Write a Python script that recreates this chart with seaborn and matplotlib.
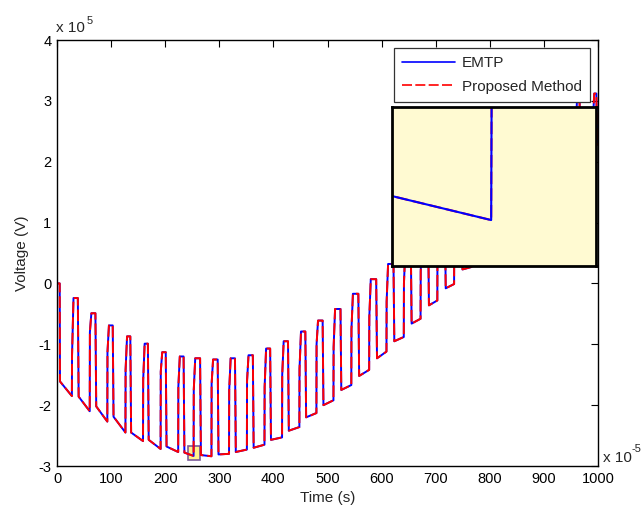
import matplotlib
matplotlib.use("Agg")
import numpy as np
import pandas as pd
import matplotlib.pyplot as plt
import seaborn as sns
from matplotlib.lines import Line2D
from matplotlib.patches import Rectangle

# Values (time in 1e-5 s, voltage in 1e5 V)
start_x = [0, 5, 5.5]
start_y = [0, 0, -1.61]
rise_x = [27.5, 60.5, 93, 126.5, 159, 191.5, 224, 252.5, 285.5, 318, 351, 383.5, 416, 448,
          479.5, 511, 544, 577, 609, 641, 672, 703, 734, 766, 798, 830, 862, 894, 926, 958, 990]
fall_x = [38.5, 71, 103, 135.5, 168, 201, 234, 264.5, 297, 329, 362, 394, 427, 459,
          491, 524, 557, 590, 622, 654, 686, 717, 748, 780, 812, 844, 876, 908, 940, 966, 997]
mid_y = [-1.18, -0.80, -1.13, -1.42, -1.59, -1.45, -1.70, -1.75, -1.65, -1.75, -1.60, -1.70, -1.50, -1.40,
         -1.00, -1.05, -0.75, -0.55, -0.30, 0.00, 0.20, 0.50, 0.75, 1.00, 1.25, 1.50, 1.75, 2.00, 2.20, 2.40, 2.60]
top_y = [-0.24, -0.49, -0.69, -0.87, -0.99, -1.13, -1.20, -1.23, -1.25, -1.23, -1.18, -1.07, -0.95, -0.79,
         -0.61, -0.42, -0.17, 0.07, 0.32, 0.60, 0.88, 1.15, 1.42, 1.70, 1.95, 2.20, 2.42, 2.62, 2.80, 2.98, 3.12]
pre_y = [-1.85, -2.10, -2.27, -2.45, -2.59, -2.72, -2.77, -2.835, -2.84, -2.80, -2.73, -2.65, -2.53, -2.36,
         -2.13, -1.92, -1.67, -1.42, -1.12, -0.88, -0.58, -0.28, -0.01, 0.27, 0.55, 0.83, 1.08, 1.33, 1.58, 1.82, 2.10]
low_y = [-1.86, -2.02, -2.19, -2.45, -2.57, -2.68, -2.78, -2.82, -2.81, -2.77, -2.70, -2.57, -2.42, -2.20,
         -2.00, -1.75, -1.52, -1.23, -0.95, -0.66, -0.36, -0.08, 0.23, 0.50, 0.78, 1.04, 1.30, 1.55, 1.78, 2.05, 2.28]
end_x = 1000
end_y = 2.30

series_names = ["EMTP", "Proposed Method"]
series_colors = {"EMTP": "#0000ff", "Proposed Method": "#ff0000"}
series_dashes = {"EMTP": "", "Proposed Method": (6, 2)}

# zoom window shown in the inset
zoom_x = [242, 263.6]
zoom_y = [-2.90, -2.675]

# build the waveform polyline
xs = list(start_x)
ys = list(start_y)
for r, f, m, t, p, lo in zip(rise_x, fall_x, mid_y, top_y, pre_y, low_y):
    xs += [r, r + 0.3, r + 3, f, f + 1.5]
    ys += [p, m, t, t, lo]
xs.append(end_x)
ys.append(end_y)

frames = []
for name in series_names:
    frames.append(pd.DataFrame({"t": xs, "v": ys, "series": name}))
df = pd.concat(frames, ignore_index=True)

sns.set_theme(style="white")
plt.rcParams["font.family"] = ["Liberation Sans", "DejaVu Sans"]

fig = plt.figure(figsize=(6.43, 5.08), dpi=100)
W, H = 643, 508
ax = fig.add_axes([57 / W, 1 - 466 / H, 541 / W, 426 / H])

sns.lineplot(data=df, x="t", y="v", hue="series", style="series", hue_order=series_names,
             style_order=series_names, palette=series_colors, dashes=series_dashes,
             sort=False, estimator=None, linewidth=1.4, legend=False, ax=ax)

ax.add_patch(Rectangle((zoom_x[0], zoom_y[0]), zoom_x[1] - zoom_x[0], zoom_y[1] - zoom_y[0],
                       facecolor="#fff38a", edgecolor="#7a5a9a", linewidth=1.2, zorder=1.5))

ax.set_xlim(0, 1000)
ax.set_ylim(-3, 4)
ax.set_xticks(np.arange(0, 1001, 100))
ax.set_yticks(np.arange(-3, 5, 1))
ax.set_yticklabels([str(v) for v in range(-3, 5)])
ax.tick_params(direction="in", length=5, width=0.8, top=True, right=True, labelsize=10.5,
               colors="black", pad=4)
for s in ax.spines.values():
    s.set_color("black")
    s.set_linewidth(1.0)
ax.set_xlabel("Time (s)", fontsize=11, labelpad=4)
ax.set_ylabel("Voltage (V)", fontsize=11, labelpad=7)

handles = [Line2D([], [], color=series_colors[n], linewidth=1.2,
                  linestyle="-" if n == "EMTP" else (0, (6, 2))) for n in series_names]
leg = ax.legend(handles, series_names, loc="upper right", bbox_to_anchor=(590 / W, 1 - 48 / H),
                bbox_transform=fig.transFigure, borderaxespad=0, fontsize=11, handlelength=3.5,
                handletextpad=0.4, labelspacing=0.6, borderpad=0.55, fancybox=False,
                framealpha=1, edgecolor="#333333")
leg.get_frame().set_linewidth(0.9)

# exponent notes, MATLAB style
fig.text(56 / W, 1 - 32 / H, "x 10", fontsize=11, va="baseline", ha="left")
fig.text(87 / W, 1 - 24 / H, "5", fontsize=8, va="baseline", ha="left")
fig.text(603 / W, 1 - 462 / H, "x 10", fontsize=11, va="baseline", ha="left")
fig.text(631 / W, 1 - 452 / H, "-5", fontsize=8, va="baseline", ha="left")

# inset
axin = fig.add_axes([392 / W, 1 - 266 / H, 204 / W, 159 / H])
axin.set_facecolor("#fffad2")
sns.lineplot(data=df, x="t", y="v", hue="series", style="series",
             hue_order=series_names[::-1], style_order=series_names,
             palette=series_colors, dashes=series_dashes, sort=False, estimator=None,
             linewidth=1.5, legend=False, ax=axin)
axin.set_xlim(zoom_x)
axin.set_ylim(zoom_y)
axin.set_xticks([])
axin.set_yticks([])
axin.set_xlabel("")
axin.set_ylabel("")
for s in axin.spines.values():
    s.set_color("black")
    s.set_linewidth(2.0)

fig.savefig("out.png", dpi=100, facecolor="white")
